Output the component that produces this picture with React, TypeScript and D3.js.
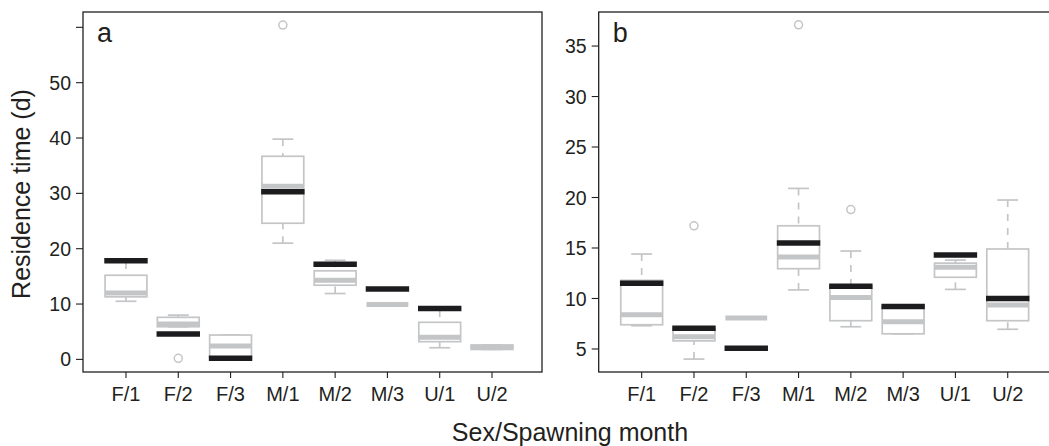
import React from "react";
import * as d3 from "d3";

const categories = ["F/1", "F/2", "F/3", "M/1", "M/2", "M/3", "U/1", "U/2"];

// Panel a (gray boxplot stats + black marker line)
const aLow = [10.5, 5.9, 0.2, 21.0, 11.9, 9.9, 2.1, 1.8];
const aQ1 = [11.3, 5.9, 0.3, 24.6, 13.4, 9.9, 3.2, 1.8];
const aMed = [12.0, 6.4, 2.4, 31.3, 14.3, 9.9, 4.0, 2.2];
const aQ3 = [15.2, 7.6, 4.4, 36.7, 16.0, 9.9, 6.7, 2.6];
const aHigh = [17.6, 8.0, 4.4, 39.8, 17.9, 9.9, 8.9, 2.6];
const aOut: number[][] = [[], [0.2], [], [60.4], [], [], [], []];
const aMark: (number | null)[] = [17.8, 4.6, 0.2, 30.3, 17.2, 12.7, 9.2, null];
const aTicks = [0, 10, 20, 30, 40, 50, 60];
const aTickLabels = ["0", "10", "20", "30", "40", "50", ""];

// Panel b
const bLow = [7.3, 4.0, 8.07, 10.85, 7.2, 6.5, 10.9, 6.95];
const bQ1 = [7.4, 5.8, 8.07, 12.95, 7.8, 6.5, 12.1, 7.8];
const bMed = [8.4, 6.2, 8.07, 14.1, 10.1, 7.7, 13.1, 9.35];
const bQ3 = [11.8, 7.0, 8.07, 17.2, 11.2, 9.2, 13.5, 14.9];
const bHigh = [14.4, 7.0, 8.07, 20.9, 14.7, 9.2, 13.8, 19.75];
const bOut: number[][] = [[], [17.2], [], [37.1], [18.8], [], [], []];
const bMark: (number | null)[] = [11.5, 7.05, 5.07, 15.5, 11.2, 9.2, 14.3, 10.0];
const bTicks = [5, 10, 15, 20, 25, 30, 35];
const bTickLabels = ["5", "10", "15", "20", "25", "30", "35"];

const FONT = "'Liberation Sans', Arial, Helvetica, sans-serif";
const INK = "#231f20";
const GRAY = "#c4c5c7";
const BLACK = "#1c1c1e";

const TOP = 12;
const BOTTOM = 372;
const PANEL_W = 459;

type PanelProps = {
  letter: string;
  left: number;
  yDomain: [number, number];
  ticks: number[];
  tickLabels: string[];
  low: number[];
  q1: number[];
  med: number[];
  q3: number[];
  high: number[];
  out: number[][];
  mark: (number | null)[];
};

function Panel(p: PanelProps) {
  const x = d3.scaleLinear().domain([0.178, 8.956]).range([p.left, p.left + PANEL_W]);
  const y = d3.scaleLinear().domain(p.yDomain).range([BOTTOM, TOP]);
  const unit = x(2) - x(1);
  const bw = unit * 0.8;
  const cap = bw / 2;
  return (
    <g>
      {categories.map((c, i) => {
        const cx = x(i + 1);
        return (
          <g key={c}>
            {/* whiskers */}
            <line x1={cx} x2={cx} y1={y(p.high[i])} y2={y(p.q3[i])} stroke={GRAY} strokeWidth={1.7} strokeDasharray="7,7" />
            <line x1={cx} x2={cx} y1={y(p.low[i])} y2={y(p.q1[i])} stroke={GRAY} strokeWidth={1.7} strokeDasharray="7,7" />
            <line x1={cx - cap / 2} x2={cx + cap / 2} y1={y(p.high[i])} y2={y(p.high[i])} stroke={GRAY} strokeWidth={1.7} />
            <line x1={cx - cap / 2} x2={cx + cap / 2} y1={y(p.low[i])} y2={y(p.low[i])} stroke={GRAY} strokeWidth={1.7} />
            {/* box */}
            <rect x={cx - bw / 2} y={y(p.q3[i])} width={bw} height={Math.max(0, y(p.q1[i]) - y(p.q3[i]))} fill="white" stroke={GRAY} strokeWidth={1.7} />
            {/* median */}
            <line x1={cx - bw / 2} x2={cx + bw / 2} y1={y(p.med[i])} y2={y(p.med[i])} stroke={GRAY} strokeWidth={5} />
            {/* outliers */}
            {p.out[i].map((v, j) => (
              <circle key={j} cx={cx} cy={y(v)} r={4} fill="none" stroke={GRAY} strokeWidth={1.5} />
            ))}
            {/* black marker */}
            {p.mark[i] !== null && (
              <line x1={cx - bw / 2 - 0.8} x2={cx + bw / 2 + 0.8} y1={y(p.mark[i] as number)} y2={y(p.mark[i] as number)} stroke={BLACK} strokeWidth={5.5} />
            )}
          </g>
        );
      })}
      {/* frame */}
      <rect x={p.left} y={TOP} width={PANEL_W} height={BOTTOM - TOP} fill="none" stroke={INK} strokeWidth={1.3} />
      {/* y axis ticks */}
      {p.ticks.map((t, i) => (
        <g key={t}>
          <line x1={p.left - 7} x2={p.left} y1={y(t)} y2={y(t)} stroke={INK} strokeWidth={1.1} />
          {p.tickLabels[i] && (
            <text x={p.left - 12} y={y(t)} dy="0.36em" textAnchor="end" fontSize={19.5} fontFamily={FONT} fill={INK}>
              {p.tickLabels[i]}
            </text>
          )}
        </g>
      ))}
      {/* x axis ticks */}
      {categories.map((c, i) => (
        <g key={c}>
          <line x1={x(i + 1)} x2={x(i + 1)} y1={BOTTOM} y2={BOTTOM + 6} stroke={INK} strokeWidth={1.1} />
          <text x={x(i + 1)} y={400.5} textAnchor="middle" fontSize={20} fontFamily={FONT} fill={INK}>
            {c}
          </text>
        </g>
      ))}
      <text x={p.left + 14} y={42} fontSize={27} fontFamily={FONT} fill={INK}>
        {p.letter}
      </text>
    </g>
  );
}

export default function App() {
  return (
    <svg width={1049} height={446} style={{ position: "absolute", left: 0, top: 0, background: "white" }}>
      <rect x={0} y={0} width={1049} height={446} fill="white" />
      <Panel letter="a" left={83} yDomain={[-2.28, 62.77]} ticks={aTicks} tickLabels={aTickLabels}
        low={aLow} q1={aQ1} med={aMed} q3={aQ3} high={aHigh} out={aOut} mark={aMark} />
      <Panel letter="b" left={598.7} yDomain={[2.72, 38.37]} ticks={bTicks} tickLabels={bTickLabels}
        low={bLow} q1={bQ1} med={bMed} q3={bQ3} high={bHigh} out={bOut} mark={bMark} />
      <text transform="translate(30,194) rotate(-90)" textAnchor="middle" fontSize={25} fontFamily={FONT} fill={INK}>
        Residence time (d)
      </text>
      <text x={570} y={441} textAnchor="middle" fontSize={25} fontFamily={FONT} fill={INK}>
        Sex/Spawning month
      </text>
    </svg>
  );
}
